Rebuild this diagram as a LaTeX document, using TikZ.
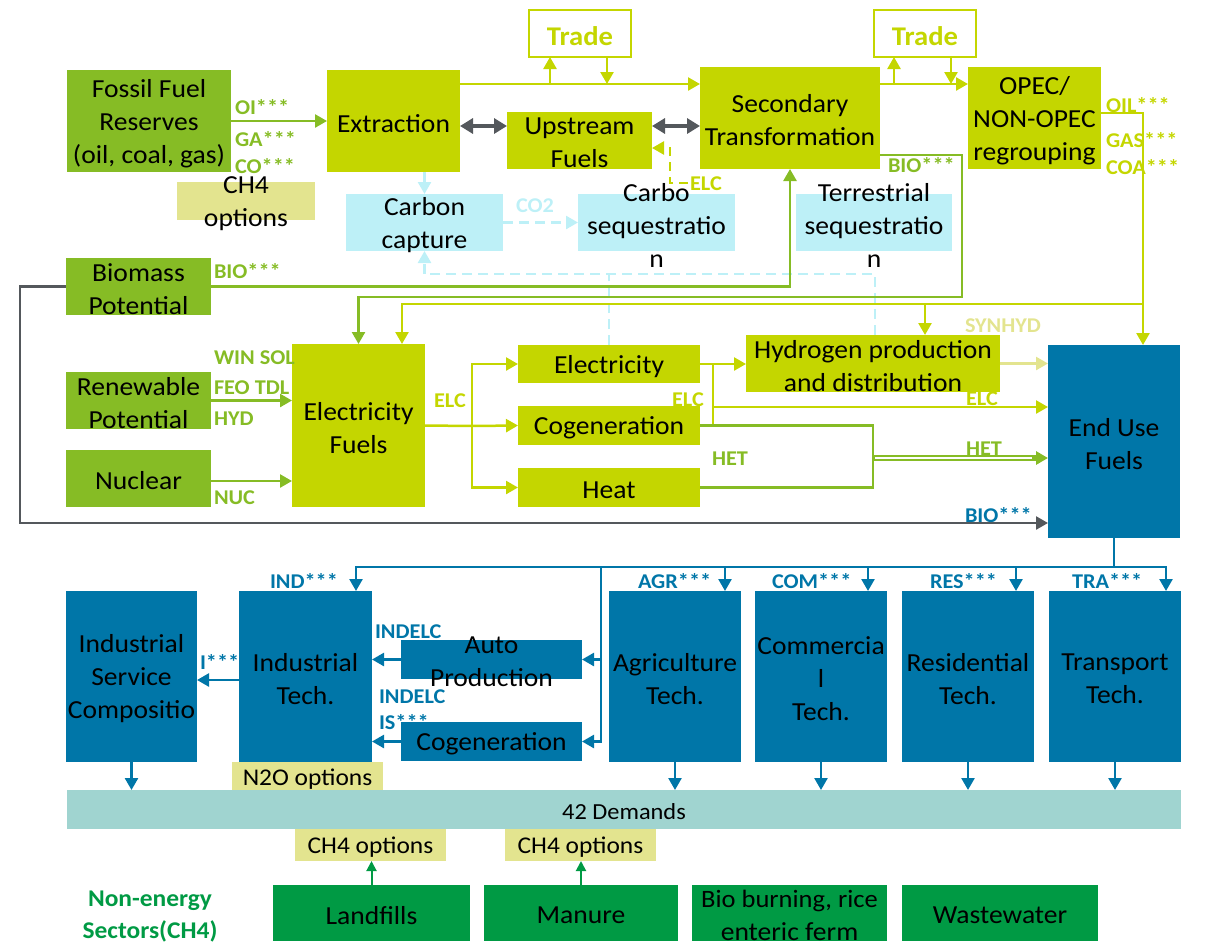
\documentclass[tikz,border=0pt]{standalone}
\usepackage{fontspec}
\setmainfont{Carlito}[FakeStretch=1.06]
\usetikzlibrary{arrows.meta}

\definecolor{cFossil}{RGB}{134,188,37}
\definecolor{cLime}{RGB}{196,214,0}
\definecolor{cSky}{RGB}{189,240,247}
\definecolor{cKhaki}{RGB}{227,228,143}
\definecolor{cBlue}{RGB}{0,118,168}
\definecolor{cDemand}{RGB}{160,212,208}
\definecolor{cSector}{RGB}{0,154,68}
\definecolor{cGray}{RGB}{84,88,92}

% block: name, left, top, right, bottom, style, text
\newcommand\blk[7]{%
  \node[#6, minimum width={#4-#2}, minimum height={#5-#3},
        label={[boxtext]center:{#7}}] (#1) at ({(#2+#4)/2},{(#3+#5)/2}) {};}

\tikzset{
  every node/.style={inner sep=0pt, outer sep=0pt},
  fossilbox/.style={fill=cFossil},
  limebox/.style={fill=cLime},
  skybox/.style={fill=cSky},
  khakibox/.style={fill=cKhaki},
  bluebox/.style={fill=cBlue},
  demandbox/.style={fill=cDemand},
  sectorbox/.style={fill=cSector},
  tradebox/.style={draw=cLime, line width=2.5pt, fill=white},
  boxtext/.style={align=center, font=\fontsize{26}{33}\selectfont, yshift=-2.5pt},
  arrowend/.style={-{Triangle[length=12pt,width=13pt]}},
  smallend/.style={-{Triangle[length=10pt,width=10pt]}},
  gline/.style={draw=cFossil, line width=2.5pt},
  lline/.style={draw=cLime, line width=2.5pt},
  ldash/.style={draw=cLime, line width=2.5pt, dash pattern=on 9pt off 6pt},
  sline/.style={draw=cSky, line width=2.5pt},
  sdash/.style={draw=cSky, line width=2.5pt, dash pattern=on 10pt off 6pt},
  kline/.style={draw=cKhaki, line width=2.5pt},
  bline/.style={draw=cBlue, line width=2.5pt},
  grline/.style={draw=cGray, line width=2.5pt},
  grboth/.style={draw=cGray, line width=3.5pt,
     {Triangle[length=13pt,width=15pt]}-{Triangle[length=13pt,width=15pt]}},
  nline/.style={draw=cSector, line width=2pt},
  lab/.style={font=\fontsize{21}{21}\selectfont\bfseries},
}

\begin{document}
\begin{tikzpicture}[x=1pt,y=-1pt]
\useasboundingbox (0,0) rectangle (1205,945);

% ---------- supply side ----------
\blk{ffr}{67}{70}{231}{172}{fossilbox}{Fossil Fuel\\Reserves\\(oil, coal, gas)}
\blk{ext}{327}{70}{460}{172}{limebox}{Extraction}
\blk{ch4a}{177}{182}{315}{220}{khakibox}{CH4\\options}
\blk{ccap}{346}{194}{503}{251}{skybox}{Carbon\\capture}
\blk{bio}{66}{258}{211}{315}{fossilbox}{Biomass\\Potential}
\blk{tr1}{529}{10}{631}{57}{tradebox}{\textcolor{cLime}{\bfseries\fontsize{27}{33}\selectfont Trade}}
\blk{ups}{507}{112}{652}{169}{limebox}{Upstream\\Fuels}
\blk{sec}{700}{67}{880}{169}{limebox}{Secondary\\Transformation}
\blk{cseq}{578}{194}{735}{251}{skybox}{Carbo\\sequestratio\\n}
\blk{tseq}{796}{194}{952}{251}{skybox}{Terrestrial\\sequestratio\\n}
\blk{tr2}{874}{10}{976}{57}{tradebox}{\textcolor{cLime}{\bfseries\fontsize{27}{33}\selectfont Trade}}
\blk{opec}{968}{67}{1101}{169}{limebox}{OPEC/\\NON-OPEC\\regrouping}

% ---------- conversion ----------
\blk{ren}{66}{372}{211}{429}{fossilbox}{Renewable\\Potential}
\blk{nuc}{66}{450}{211}{507}{fossilbox}{Nuclear}
\blk{elf}{292}{344}{425}{507}{limebox}{Electricity\\Fuels}
\blk{elc}{518}{345}{700}{383}{limebox}{Electricity}
\blk{cog}{518}{406}{700}{445}{limebox}{Cogeneration}
\blk{heat}{518}{468}{700}{507}{limebox}{Heat}
\blk{hyd}{746}{335}{1000}{392}{limebox}{Hydrogen production\\and distribution}
\blk{euf}{1048}{345}{1180}{538}{bluebox}{End Use\\Fuels}

% ---------- end use ----------
\blk{isc}{66}{591}{197}{762}{bluebox}{Industrial\\Service\\Compositio}
\blk{ind}{239}{591}{372}{762}{bluebox}{Industrial\\Tech.}
\blk{auto}{401}{640}{582}{679}{bluebox}{Auto\\Production}
\blk{cogi}{401}{722}{582}{761}{bluebox}{Cogeneration}
\blk{agr}{609}{591}{741}{762}{bluebox}{Agriculture\\Tech.}
\blk{com}{755}{591}{887}{762}{bluebox}{Commercia\\l\\Tech.}
\blk{res}{902}{591}{1034}{762}{bluebox}{Residential\\Tech.}
\blk{tra}{1049}{591}{1181}{762}{bluebox}{Transport\\Tech.}
\blk{n2o}{232}{762}{383}{791}{khakibox}{\fontsize{24}{28}\selectfont N2O options}
\blk{dem}{67}{790}{1181}{829}{demandbox}{\fontsize{23}{28}\selectfont 42 Demands}
\blk{ch4b}{295}{829}{446}{861}{khakibox}{\fontsize{24}{28}\selectfont CH4 options}
\blk{ch4c}{505}{829}{656}{861}{khakibox}{\fontsize{24}{28}\selectfont CH4 options}
\blk{land}{273}{885}{470}{941}{sectorbox}{Landfills}
\blk{man}{484}{885}{678}{941}{sectorbox}{Manure}
\blk{bbr}{692}{885}{887}{941}{sectorbox}{\fontsize{25}{30}\selectfont Bio burning, rice\\enteric ferm}
\blk{ww}{902}{885}{1098}{941}{sectorbox}{Wastewater}

% ---------- junction points ----------
\coordinate (t1a) at (550,84);
\coordinate (t1b) at (607,84);
\coordinate (t2a) at (894,84);
\coordinate (t2b) at (951,84);
\coordinate (elcA) at (688,183);
\coordinate (jO) at (1143,304);
\coordinate (jH) at (925,304);
\coordinate (jS) at (609,274);
\coordinate (jE) at (472,426);
\coordinate (jT) at (713,364);
\coordinate (jL) at (713,407);
\coordinate (jHet) at (873,458);
\coordinate (jB) at (1114,567);
\coordinate (jA) at (725,567);
\coordinate (jCm) at (868,567);
\coordinate (jR) at (1016,567);
\coordinate (jV) at (601,567);

% ---------- fossil chain ----------
\draw[gline, arrowend] (ffr.east) -- (ext.west);
\draw[grboth] (ext.east |- 0,126) -- (ups.west |- 0,126);
\draw[grboth] (ups.east |- 0,126) -- (sec.west |- 0,126);
\draw[lline, arrowend] (ext.east |- 0,84) -- (sec.west |- 0,84);
\draw[lline, arrowend] (t1a) -- (t1a |- tr1.south);
\draw[lline, arrowend] (t1b |- tr1.south) -- (t1b);
\draw[lline, arrowend] (sec.east |- 0,84) -- (opec.west |- 0,84);
\draw[lline, arrowend] (t2a) -- (t2a |- tr2.south);
\draw[lline, arrowend] (t2b |- tr2.south) -- (t2b);
\draw[ldash, arrowend] (elcA) -- ++(-18,0) |- (ups.east |- 0,148);

% ---------- carbon capture ----------
\draw[sline, arrowend] (ccap.north |- ext.south) -- (ccap.north);
\draw[sdash, arrowend] (ccap.east) -- (cseq.west);
\draw[sdash] (elc.north) -- (jS);
\draw[sdash, arrowend] (hyd.north -| 875,0) |- (ccap.south |- jS) -- (ccap.south);

% ---------- biomass ----------
\draw[gline, arrowend] (bio.east) -| (sec.south);
\draw[grline, arrowend] (bio.west) -- ++(-46,0) |- (euf.west |- 0,523);
\draw[gline, arrowend] (sec.east |- 0,155) -| (962,297) -| (elf.north);

% ---------- regrouped fuels ----------
\draw[lline, arrowend] (opec.east |- 0,113) -| (euf.north -| jO);
\draw[lline, arrowend] (jO) -| (elf.north -| 402,0);
\draw[lline, arrowend] (jH) -- (hyd.north -| jH);

% ---------- electricity ----------
\draw[gline, arrowend] (ren.east) -- (elf.west |- ren.east);
\draw[gline, arrowend] (nuc.east |- 0,481) -- (elf.west |- 0,481);
\draw[lline] (elf.east) -- (jE);
\draw[lline, arrowend] (jE) |- (elc.west);
\draw[lline, arrowend] (jE) -- (cog.west);
\draw[lline, arrowend] (jE) |- (heat.west);
\draw[lline, arrowend] (elc.east) -- (hyd.west |- elc.east);
\draw[lline] (cog.east) -| (jT);
\draw[lline, arrowend] (jL) -- (euf.west |- jL);
\draw[kline, arrowend] (hyd.east) -- (euf.west |- hyd.east);
\draw[gline] (cog.east) -| (heat.east -| jHet) -- (heat.east);
\draw[draw=cFossil, line width=5.5pt, arrowend] (jHet) -- (euf.west |- jHet);
\draw[white, line width=1.2pt] ([xshift=2pt]jHet) -- ([xshift=-16pt]euf.west |- jHet);

% ---------- end-use distribution ----------
\draw[bline] (euf.south) -- (jB);
\draw[bline, arrowend] (jB) -| (tra.north -| 1166,0);
\draw[bline, arrowend] (jB) -| (ind.north -| 356,0);
\draw[bline, arrowend] (jA) -- (agr.north -| jA);
\draw[bline, arrowend] (jCm) -- (com.north -| jCm);
\draw[bline, arrowend] (jR) -- (res.north -| jR);
\draw[bline, arrowend] (jV) |- (auto.east);
\draw[bline, arrowend] (jV) |- (cogi.east);
\draw[bline, arrowend] (auto.west) -- (ind.east |- auto.west);
\draw[bline, arrowend] (cogi.west) -- (ind.east |- cogi.west);
\draw[bline, arrowend] (ind.west |- 0,680) -- (isc.east |- 0,680);
\draw[bline, arrowend] (isc.south) -- (dem.north -| isc.south);
\draw[bline, arrowend] (agr.south) -- (dem.north -| agr.south);
\draw[bline, arrowend] (com.south) -- (dem.north -| com.south);
\draw[bline, arrowend] (res.south) -- (dem.north -| res.south);
\draw[bline, arrowend] (tra.south) -- (dem.north -| tra.south);

% ---------- non-energy sectors ----------
\draw[nline, smallend] (land.north) -- (ch4b.south -| land.north);
\draw[nline, smallend] (man.north) -- (ch4c.south -| man.north);

% ---------- flow labels ----------
\node[lab, text=cFossil, anchor=west] (lOI) at (235,107) {OI***};
\node[lab, text=cFossil, anchor=west] (lGA) at (235,139) {GA***};
\node[lab, text=cFossil, anchor=west] (lCO) at (235,166) {CO***};
\node[lab, text=cFossil, anchor=west] (lBIOa) at (214,271) {BIO***};
\node[lab, text=cSky, anchor=west] (lCO2) at (516,206) {CO2};
\node[lab, text=cLime, anchor=west] (lELCa) at (690,184) {ELC};
\node[lab, text=cFossil, anchor=west] (lBIOb) at (888,165) {BIO***};
\node[lab, text=cLime, anchor=west] (lOIL) at (1106,105) {OIL***};
\node[lab, text=cLime, anchor=west] (lGAS) at (1106,140) {GAS***};
\node[lab, text=cLime, anchor=west] (lCOA) at (1106,167) {COA***};
\node[lab, text=cFossil, anchor=west] (lWIN) at (214,358) {WIN SOL};
\node[lab, text=cFossil, anchor=west] (lFEO) at (214,388) {FEO TDL};
\node[lab, text=cFossil, anchor=west] (lHYD) at (214,419) {HYD};
\node[lab, text=cFossil, anchor=west] (lNUC) at (214,498) {NUC};
\node[lab, text=cLime] (lELCb) at (450,401) {ELC};
\node[lab, text=cLime] (lELCc) at (688,400) {ELC};
\node[lab, text=cLime] (lELCd) at (982,399) {ELC};
\node[lab, text=cKhaki, anchor=west] (lSYN) at (965,326) {SYNHYD};
\node[lab, text=cFossil] (lHETa) at (730,459) {HET};
\node[lab, text=cFossil] (lHETb) at (984,449) {HET};
\node[lab, text=cBlue, anchor=west] (lBIOc) at (965,515) {BIO***};
\node[lab, text=cBlue, anchor=west] (lIND) at (270,581) {IND***};
\node[lab, text=cBlue, anchor=west] (lAGR) at (638,581) {AGR***};
\node[lab, text=cBlue, anchor=west] (lCOM) at (772,581) {COM***};
\node[lab, text=cBlue, anchor=west] (lRES) at (930,581) {RES***};
\node[lab, text=cBlue, anchor=west] (lTRA) at (1072,581) {TRA***};
\node[lab, text=cBlue, anchor=west] (lI) at (200,662) {I***};
\node[lab, text=cBlue, anchor=west] (lINDa) at (375,632) {INDELC};
\node[lab, text=cBlue, anchor=west] (lINDb) at (379,697) {INDELC};
\node[lab, text=cBlue, anchor=west] (lIS) at (379,722) {IS***};
\node[lab, text=cSector, align=center, font=\fontsize{24}{32}\selectfont\bfseries]
  (lNon) at (150,917) {Non-energy\\Sectors(CH4)};
\end{tikzpicture}
\end{document}
